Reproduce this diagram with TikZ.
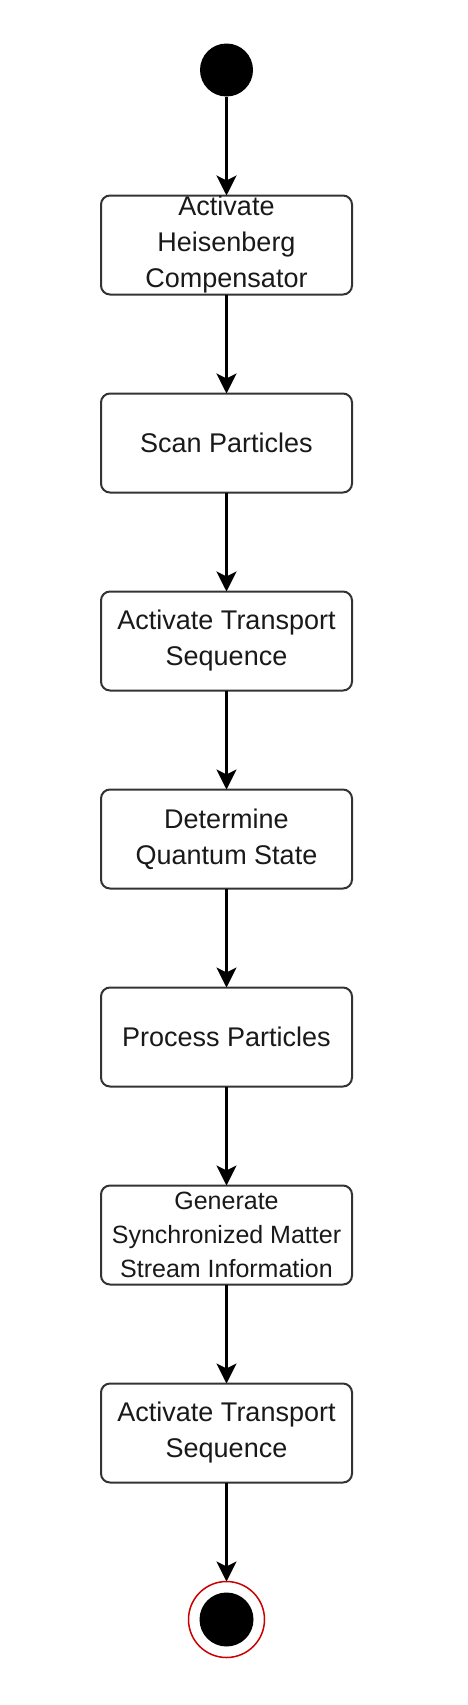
\documentclass[tikz,border=0pt]{standalone}
\usepackage{fontspec}
\setmainfont{Liberation Sans}
\usetikzlibrary{positioning, arrows.meta}
\tikzset{
  act/.style = {
    rectangle, rounded corners=9pt,
    draw=black!80, line width=2pt, fill=white,
    minimum width=251pt, minimum height=99pt,
    inner sep=0pt, outer sep=0pt, align=center,
    font=\fontsize{27}{36}\selectfont, text=black!90
  },
  actsmall/.style = {act, font=\fontsize{25}{34}\selectfont},
  initial/.style = {
    circle, fill=black, minimum size=53pt,
    inner sep=0pt, outer sep=0pt
  },
  final/.style = {
    circle, draw=red!80!black, line width=1.5pt, fill=white,
    minimum size=76pt, inner sep=0pt, outer sep=0pt,
    path picture={\fill[black] (path picture bounding box.center) circle (27pt);}
  },
  flow/.style = {-{Stealth[length=20pt,width=20pt,inset=5pt]},
                 black, line width=3pt}
}

\begin{document}
\begin{tikzpicture}[x=1pt, y=1pt, node distance=99pt]
  \useasboundingbox (0,0) rectangle (468,-1705);

  %% Start
  \node[initial] (init) at (226.5,-70) {};

  %% Actions
  \node[act, below=of init]  (heis)  {Activate\\Heisenberg\\Compensator};
  \node[act, below=of heis]  (scan)  {Scan Particles};
  \node[act, below=of scan]  (trans) {Activate Transport\\Sequence};
  \node[act, below=of trans] (quant) {Determine\\Quantum State};
  \node[act, below=of quant] (proc)  {Process Particles};
  \node[actsmall, below=of proc] (gen) {Generate\\Synchronized Matter\\Stream Information};
  \node[act, below=of gen]   (transb) {Activate Transport\\Sequence};

  %% End
  \node[final, below=of transb] (done) {};

  %% Flows
  \foreach \a/\b in {init/heis, heis/scan, scan/trans, trans/quant,
                     quant/proc, proc/gen, gen/transb, transb/done}
    \draw[flow] (\a.south) -- (\b.north);

\end{tikzpicture}
\end{document}
